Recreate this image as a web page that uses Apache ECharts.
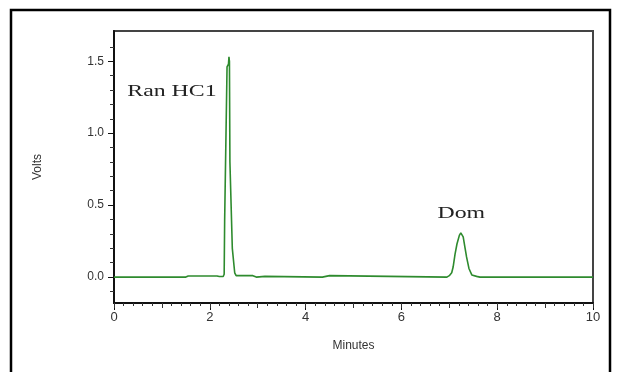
<!DOCTYPE html>
<html>
<head>
<meta charset="utf-8">
<script src="https://cdn.jsdelivr.net/npm/echarts@6/dist/echarts.min.js"></script>
<style>
  html, body { margin: 0; padding: 0; background: #fff; }
  #chart { width: 618px; height: 372px; }
</style>
</head>
<body>
<div id="chart"></div>
<script>
// Chromatogram trace: retention time (min) and detector response (V)
const timeMin = [0, 1.50, 1.55, 2.15, 2.20, 2.28, 2.30, 2.31, 2.35, 2.36, 2.39, 2.40, 2.41, 2.42, 2.46, 2.47, 2.50, 2.52, 2.55,
  2.90, 2.93, 2.97, 3.00, 3.15, 3.18, 4.35, 4.38, 4.50, 4.53,
  6.95, 7.00, 7.05, 7.08, 7.12, 7.16, 7.21, 7.24, 7.26, 7.29, 7.33, 7.36, 7.41, 7.47, 7.57, 7.64, 10];
const volts = [0, 0, 0.008, 0.008, 0.004, 0.004, 0.02, 0.39, 0.39, 1.46, 1.48, 1.53, 1.50, 0.80, 0.80, 0.20, 0.20, 0.03, 0.01,
  0.01, 0.0, 0.0, 0.005, 0.005, 0, 0, 0.01, 0.01, 0,
  0, 0.01, 0.03, 0.07, 0.16, 0.23, 0.29, 0.307, 0.30, 0.28, 0.20, 0.14, 0.06, 0.015, 0.005, 0, 0];

// Peak annotations
const peakNames = ['Ran HC1', 'Dom'];
const peakNameTime = [1.21, 7.25];
const peakNameVolts = [1.29, 0.44];

// Axis ticks
const xTickLabels = [0, 2, 4, 6, 8, 10];
const yTickLabels = [0, 0.5, 1.0, 1.5];
const yMinorTicks = [-0.1, 0.1, 0.2, 0.3, 0.4, 0.6, 0.7, 0.8, 0.9, 1.1, 1.2, 1.3, 1.4, 1.6];

const yMin = -0.18, yMax = 1.71;
const tickFont = { fontFamily: 'Liberation Sans, Arial, sans-serif', color: '#333' };

const chart = echarts.init(document.getElementById('chart'), null, { renderer: 'canvas' });

const option = {
  backgroundColor: '#fff',
  animation: false,
  grid: {
    left: 114, right: 25, top: 31, bottom: 69,
    show: true, borderColor: '#444', borderWidth: 2, backgroundColor: 'transparent'
  },
  xAxis: [
    {
      type: 'value', min: xTickLabels[0], max: xTickLabels[xTickLabels.length - 1], interval: 2,
      position: 'bottom',
      name: 'Minutes', nameLocation: 'middle', nameGap: 37,
      nameTextStyle: Object.assign({ fontSize: 12 }, tickFont),
      axisLine: { show: true, onZero: false, lineStyle: { color: '#111', width: 2 } },
      axisTick: { show: true, inside: false, length: 7, lineStyle: { color: '#111', width: 1 } },
      minorTick: { show: true, splitNumber: 10, length: 3, lineStyle: { color: '#333', width: 1 } },
      axisLabel: Object.assign({ fontSize: 13, margin: 8 }, tickFont),
      splitLine: { show: false }
    },
    {
      // mid ticks at odd minutes
      type: 'value', min: xTickLabels[0], max: xTickLabels[xTickLabels.length - 1], interval: 1,
      position: 'bottom',
      axisLine: { show: false, onZero: false },
      axisTick: { show: true, length: 5, lineStyle: { color: '#333', width: 1 } },
      axisLabel: { show: false },
      splitLine: { show: false }
    }
  ],
  yAxis: [
    {
      type: 'value', min: yMin, max: yMax,
      position: 'left',
      name: 'Volts', nameLocation: 'middle', nameGap: 70, nameRotate: 90,
      nameTextStyle: Object.assign({ fontSize: 12 }, tickFont),
      axisLine: { show: true, onZero: false, lineStyle: { color: '#111', width: 2 } },
      axisTick: { show: true, length: 6, customValues: yTickLabels, lineStyle: { color: '#111', width: 1 } },
      axisLabel: Object.assign({
        fontSize: 12, margin: 10, customValues: yTickLabels,
        formatter: v => v.toFixed(1)
      }, tickFont),
      splitLine: { show: false }
    },
    {
      // minor ticks every 0.1 V
      type: 'value', min: yMin, max: yMax,
      position: 'left',
      axisLine: { show: false, onZero: false },
      axisTick: { show: true, length: 4, customValues: yMinorTicks, lineStyle: { color: '#333', width: 1 } },
      axisLabel: { show: false },
      splitLine: { show: false }
    }
  ],
  series: [
    {
      type: 'line',
      xAxisIndex: 0, yAxisIndex: 0,
      data: timeMin.map((t, i) => [t, volts[i]]),
      showSymbol: false,
      lineStyle: { color: '#2e8b2e', width: 1.6 },
      silent: true
    }
  ],
  graphic: [
    {
      type: 'polyline', silent: true,
      shape: { points: [[11, 372], [11, 10], [610, 10], [610, 372]] },
      style: { stroke: '#000', lineWidth: 2.5, fill: null }
    }
  ]
};

chart.setOption(option);

// Peak names placed at data coordinates
const labelGraphics = peakNames.map((name, i) => {
  const p = chart.convertToPixel({ xAxisIndex: 0, yAxisIndex: 0 }, [peakNameTime[i], peakNameVolts[i]]);
  return {
    type: 'text', silent: true,
    x: p[0], y: p[1], scaleX: 1.4,
    style: {
      text: name, fill: '#222',
      font: '17px "Liberation Serif", "Times New Roman", serif',
      align: 'center', verticalAlign: 'middle'
    }
  };
});
chart.setOption({ graphic: option.graphic.concat(labelGraphics) }, { replaceMerge: ['graphic'] });
</script>
</body>
</html>
